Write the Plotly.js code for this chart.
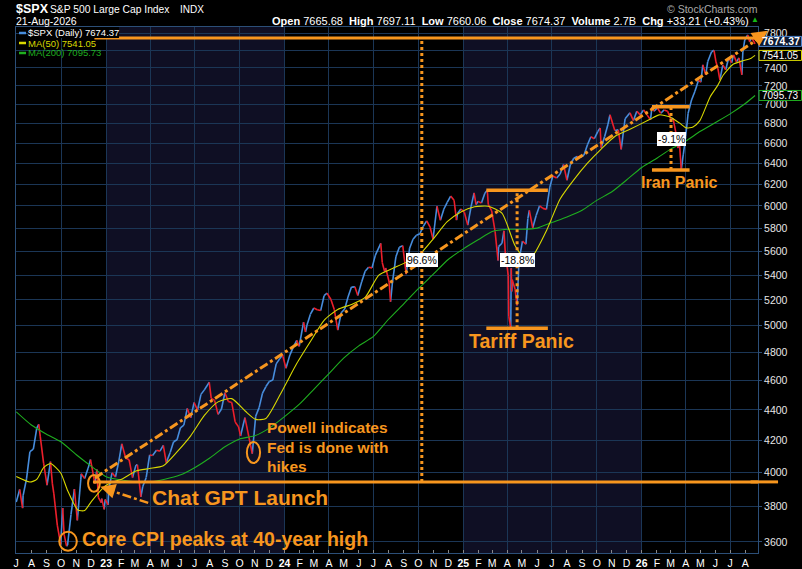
<!DOCTYPE html>
<html><head><meta charset="utf-8">
<script src="https://cdn.plot.ly/plotly-3.0.1.min.js"></script>
<style>html,body{margin:0;padding:0;background:#000;}#chart{width:802px;height:569px;}</style>
</head><body><div id="chart"></div>
<script>
// ---- price data (closes) ----
const d22 = ['2022-07-01','2022-07-08','2022-07-14','2022-07-15','2022-07-22','2022-07-29','2022-08-05','2022-08-12','2022-08-16','2022-08-19','2022-08-26','2022-09-02','2022-09-09','2022-09-13','2022-09-16','2022-09-23','2022-09-30','2022-10-04','2022-10-07','2022-10-12','2022-10-14','2022-10-21','2022-10-28','2022-11-03','2022-11-10','2022-11-11','2022-11-18','2022-11-25','2022-11-30','2022-12-09','2022-12-13','2022-12-16','2022-12-22','2022-12-23','2022-12-28','2022-12-30'];
const v22 = [3825,3899,3790,3863,3962,4130,4145,4280,4305,4228,4058,3924,4067,3932,3873,3693,3586,3791,3640,3577,3583,3752,3901,3720,3956,3993,3965,4026,4080,3934,4019,3852,3822,3845,3783,3840];
const d23 = ['2023-01-05','2023-01-06','2023-01-13','2023-01-20','2023-01-27','2023-02-02','2023-02-10','2023-02-17','2023-02-24','2023-03-03','2023-03-06','2023-03-13','2023-03-17','2023-03-24','2023-03-31','2023-04-06','2023-04-14','2023-04-21','2023-04-28','2023-05-04','2023-05-12','2023-05-19','2023-05-26','2023-06-02','2023-06-09','2023-06-16','2023-06-23','2023-06-30','2023-07-07','2023-07-14','2023-07-21','2023-07-31','2023-08-04','2023-08-11','2023-08-18','2023-08-25','2023-09-01','2023-09-08','2023-09-15','2023-09-22','2023-09-29','2023-10-03','2023-10-12','2023-10-20','2023-10-27','2023-11-03','2023-11-10','2023-11-17','2023-11-24','2023-12-01','2023-12-08','2023-12-15','2023-12-22','2023-12-28','2023-12-29'];
const v23 = [3808,3895,3999,3973,4071,4179,4090,4079,3970,4046,4048,3855,3917,3971,4109,4105,4138,4133,4169,4061,4124,4192,4205,4282,4299,4410,4348,4450,4399,4505,4536,4589,4478,4464,4370,4406,4516,4457,4450,4320,4288,4229,4349,4224,4117,4358,4415,4514,4559,4595,4604,4719,4755,4783,4770];
const d24 = ['2024-01-04','2024-01-12','2024-01-19','2024-01-26','2024-01-31','2024-02-09','2024-02-13','2024-02-16','2024-02-23','2024-03-01','2024-03-08','2024-03-15','2024-03-22','2024-03-28','2024-04-05','2024-04-12','2024-04-19','2024-04-26','2024-05-03','2024-05-10','2024-05-17','2024-05-24','2024-05-30','2024-06-07','2024-06-14','2024-06-21','2024-06-28','2024-07-05','2024-07-16','2024-07-19','2024-07-24','2024-07-26','2024-08-02','2024-08-05','2024-08-09','2024-08-16','2024-08-23','2024-08-30','2024-09-06','2024-09-13','2024-09-20','2024-09-27','2024-10-04','2024-10-11','2024-10-18','2024-10-25','2024-10-31','2024-11-08','2024-11-15','2024-11-22','2024-11-29','2024-12-06','2024-12-13','2024-12-18','2024-12-20','2024-12-27'];
const v24 = [4688,4784,4840,4891,4846,5027,4953,5006,5089,5137,5124,5117,5234,5254,5204,5123,4967,5100,5128,5223,5303,5305,5236,5347,5432,5465,5460,5567,5667,5505,5427,5459,5346,5186,5344,5554,5634,5648,5408,5626,5703,5738,5751,5815,5864,5808,5705,5996,5870,5969,6032,6090,6051,5872,5931,5971];
const d25 = ['2025-01-03','2025-01-10','2025-01-17','2025-01-23','2025-01-27','2025-01-31','2025-02-07','2025-02-14','2025-02-19','2025-02-21','2025-02-28','2025-03-07','2025-03-13','2025-03-14','2025-03-21','2025-03-25','2025-03-28','2025-04-03','2025-04-04','2025-04-08','2025-04-09','2025-04-10','2025-04-11','2025-04-17','2025-04-21','2025-04-25','2025-05-02','2025-05-09','2025-05-13','2025-05-16','2025-05-23','2025-05-30','2025-06-06','2025-06-13','2025-06-20','2025-06-27','2025-07-03','2025-07-11','2025-07-18','2025-07-25','2025-08-01','2025-08-08','2025-08-15','2025-08-22','2025-08-29','2025-09-05','2025-09-12','2025-09-19','2025-09-26','2025-10-03','2025-10-08','2025-10-10','2025-10-17','2025-10-24','2025-10-28','2025-11-07','2025-11-14','2025-11-20','2025-11-28','2025-12-08','2025-12-15','2025-12-22','2025-12-29'];
const v25 = [5942,5827,5997,6119,6012,6041,6026,6115,6144,6013,5955,5770,5522,5639,5668,5777,5581,5397,5074,4982,5457,5268,5363,5283,5158,5525,5687,5660,5886,5958,5803,5912,6000,5977,5968,6173,6279,6260,6297,6389,6238,6389,6450,6467,6460,6482,6584,6664,6644,6716,6753,6553,6664,6792,6891,6728,6734,6538,6849,6911,6830,6928,6890];
const d26 = ['2026-01-05','2026-01-12','2026-01-19','2026-01-22','2026-01-26','2026-02-02','2026-02-09','2026-02-16','2026-02-23','2026-03-02','2026-03-06','2026-03-12','2026-03-16','2026-03-19','2026-03-23','2026-03-27','2026-04-01','2026-04-06','2026-04-13','2026-04-20','2026-04-27','2026-05-02','2026-05-06','2026-05-12','2026-05-16','2026-05-24','2026-05-29','2026-06-02','2026-06-06','2026-06-10','2026-06-16','2026-06-22','2026-06-28','2026-07-04','2026-07-08','2026-07-14','2026-07-19','2026-07-25','2026-07-27','2026-07-31','2026-08-06','2026-08-10','2026-08-14','2026-08-21'];
const v26 = [6942,6890,6838,6974,6928,6964,6907,6942,6928,6838,6855,6704,6551,6620,6337,6484,6664,6907,7048,7142,7260,7240,7434,7322,7468,7583,7600,7468,7390,7266,7434,7378,7514,7457,7548,7468,7514,7322,7583,7723,7780,7700,7750,7674.37];

// ---- moving averages ----
const ma50Dates = ['2022-07-01','2022-07-29','2022-08-12','2022-08-26','2022-09-09','2022-09-30','2022-10-14','2022-11-04','2022-11-18','2022-12-02','2022-12-30','2023-01-13','2023-02-03','2023-03-03','2023-03-31','2023-04-28','2023-05-26','2023-06-23','2023-07-21','2023-08-18','2023-09-15','2023-10-13','2023-11-03','2023-11-24','2023-12-29','2024-01-26','2024-02-23','2024-03-22','2024-04-19','2024-05-17','2024-06-14','2024-07-12','2024-08-09','2024-09-06','2024-10-04','2024-11-01','2024-11-29','2024-12-27','2025-01-24','2025-02-21','2025-03-21','2025-04-17','2025-05-09','2025-05-23','2025-06-20','2025-07-18','2025-08-15','2025-09-12','2025-10-10','2025-11-07','2025-12-08','2026-01-16','2026-02-06','2026-02-27','2026-03-19','2026-04-02','2026-04-16','2026-04-30','2026-05-21','2026-06-05','2026-06-17','2026-07-07','2026-07-27','2026-08-13','2026-08-21'];
const ma50Values = [3976,3943,3959,4030,4056,3998,3893,3779,3776,3829,3920,3942,3962,4010,4025,4042,4128,4230,4363,4454,4476,4391,4337,4343,4541,4721,4882,5042,5126,5165,5221,5400,5454,5508,5575,5709,5857,5945,5991,5996,5933,5646,5525,5560,5777,6063,6242,6402,6541,6667,6740,6838,6890,6869,6806,6755,6765,6830,7080,7200,7320,7440,7480,7510,7541.05];
const ma200Dates = ['2022-07-01','2022-08-01','2022-09-01','2022-10-01','2022-11-01','2022-12-01','2023-01-01','2023-02-01','2023-03-01','2023-04-01','2023-05-01','2023-06-01','2023-07-01','2023-08-01','2023-09-01','2023-10-01','2023-11-01','2023-12-01','2024-01-01','2024-02-01','2024-03-01','2024-04-01','2024-05-01','2024-06-01','2024-07-01','2024-08-01','2024-09-01','2024-10-01','2024-11-01','2024-12-01','2025-01-01','2025-02-01','2025-03-01','2025-04-01','2025-05-01','2025-06-01','2025-07-01','2025-08-01','2025-09-01','2025-10-01','2025-11-01','2025-12-01','2026-01-01','2026-02-01','2026-03-01','2026-04-01','2026-05-01','2026-06-01','2026-07-01','2026-08-01','2026-08-21'];
const ma200Values = [4387,4300,4240,4190,4110,4040,3975,3955,3945,3945,3960,3985,4030,4090,4160,4210,4230,4280,4355,4440,4540,4650,4760,4850,4920,5050,5170,5290,5410,5530,5620,5700,5770,5790,5790,5800,5850,5900,5960,6050,6130,6240,6360,6450,6540,6620,6720,6810,6900,7010,7095.73];

// ---- axis labels ----
const yTicks = [3600,3800,4000,4200,4400,4600,4800,5000,5200,5400,5600,5800,6000,6200,6400,6600,6800,7000,7200,7400,7600,7800];
const yHiddenLabels = [7600]; // covered by the price tags in the reference
const monthInitials = ['J','F','M','A','M','J','J','A','S','O','N','D'];

// ---- annotation levels ----
const chatGptLevel = 3944, highLevel = 7744;
const tariffHigh = 6144, tariffLow = 4982;
const iranHigh = 6974, iranLow = 6337;
const tagValues = [7674.37, 7541.05, 7095.73];

const dates = [].concat(d22,d23,d24,d25,d26);
const closes = [].concat(v22,v23,v24,v25,v26);
const upX=[],upY=[],dnX=[],dnY=[];
for (let i=1;i<dates.length;i++){
  const up = closes[i] >= closes[i-1];
  (up?upX:dnX).push(dates[i-1],dates[i],null);
  (up?upY:dnY).push(closes[i-1],closes[i],null);
}
const tickvals=[], ticktext=[];
for (let y=2022,m=6; y<2026 || m<=7; ){
  tickvals.push(y+'-'+String(m+1).padStart(2,'0')+'-01');
  ticktext.push(m===0 ? '<b>'+String(y).slice(2)+'</b>' : monthInitials[m]);
  m++; if(m>11){m=0;y++;}
}

const orange = '#f7961e';
const grid = '#1b3656';
const frame = '#2c4f78';
const FONT = 'Liberation Sans, Arial, Helvetica, sans-serif';
const blue = '#478ddd', red = '#ec1f2b', yellow = '#d8d800', green = '#1fae1f';

const traces = [
  {x:upX,y:upY,type:'scatter',mode:'lines',line:{color:blue,width:1.6},hoverinfo:'skip'},
  {x:dnX,y:dnY,type:'scatter',mode:'lines',line:{color:red,width:1.6},hoverinfo:'skip'},
  {x:ma200Dates,y:ma200Values,type:'scatter',mode:'lines',line:{color:green,width:1.1,shape:'spline',smoothing:0.6},hoverinfo:'skip'},
  {x:ma50Dates,y:ma50Values,type:'scatter',mode:'lines',line:{color:yellow,width:1.1,shape:'spline',smoothing:0.6},hoverinfo:'skip'}
];

const py = p => (553-p)/526, px = p => (p-16)/742;
const pxPerDecade = 1515;
const L = (x0,y0,x1,y1,w,dash) => ({type:'line',xref:'x',yref:'y',x0,y0,x1,y1,layer:'above',line:{color:orange,width:w,dash:dash||'solid'}});
// price tags: [pixel shift up, border colour, fill]
const tagStyle = [[2.5,'#4f86cf','#0c1a33'],[0,yellow,'#000'],[0,green,'#000']];
const tagShapes = tagValues.map((v,i)=>{
  const c = Math.log10(v) + tagStyle[i][0]/pxPerDecade, h = 5/pxPerDecade;
  return {type:'rect',xref:'paper',yref:'y',x0:px(759),x1:px(801.5),y0:Math.pow(10,c-h),y1:Math.pow(10,c+h),
    fillcolor:tagStyle[i][2],line:{color:tagStyle[i][1],width:1},layer:'above'};
});
const shapes = [
  {type:'rect',xref:'x',yref:'paper',x0:'2023-01-01',x1:'2024-01-01',y0:0,y1:1,fillcolor:'#0f0f24',line:{width:0},layer:'below'},
  {type:'rect',xref:'x',yref:'paper',x0:'2025-01-01',x1:'2026-01-01',y0:0,y1:1,fillcolor:'#0f0f24',line:{width:0},layer:'below'},
  L('2022-12-08',highLevel,'2026-08-27',highLevel,3),
  L('2022-12-05',chatGptLevel,'2026-08-27',chatGptLevel,3),
  {type:'line',xref:'paper',yref:'y',x0:0.99,x1:1.027,y0:chatGptLevel,y1:chatGptLevel,layer:'above',line:{color:orange,width:3}},
  L('2024-10-08',chatGptLevel,'2024-10-08',highLevel,3,'dot'),
  L('2025-02-17',tariffHigh,'2025-06-23',tariffHigh,3.5),
  L('2025-02-17',tariffLow,'2025-06-23',tariffLow,3.5),
  L('2025-04-21',tariffLow,'2025-04-21',tariffHigh,3,'dot'),
  L('2026-01-22',iranHigh,'2026-04-09',iranHigh,3.5),
  L('2026-01-22',iranLow,'2026-04-09',iranLow,3.5),
  L('2026-03-02',iranLow,'2026-03-02',iranHigh,3,'dot'),
  L('2022-12-09',3968,'2026-08-27',7731,3,'dashdot'),
  L('2023-03-28',3820,'2023-01-13',3890,2.5,'dashdot'),
  {type:'circle',xref:'x',yref:'y',x0:'2022-11-25',x1:'2022-12-19',y0:3885,y1:3986,layer:'above',line:{color:orange,width:2}},
  {type:'circle',xref:'x',yref:'y',x0:'2023-10-16',x1:'2023-11-12',y0:4059,y1:4191,layer:'above',line:{color:orange,width:2}},
  {type:'circle',xref:'x',yref:'y',x0:'2022-09-27',x1:'2022-11-02',y0:3552,y1:3656,layer:'above',line:{color:orange,width:2}},
  {type:'line',xref:'paper',yref:'paper',x0:px(19),x1:px(26),y0:py(33),y1:py(33),line:{color:blue,width:2.5}},
  {type:'line',xref:'paper',yref:'paper',x0:px(19),x1:px(26),y0:py(43),y1:py(43),line:{color:yellow,width:2.5}},
  {type:'line',xref:'paper',yref:'paper',x0:px(19),x1:px(26),y0:py(53),y1:py(53),line:{color:green,width:2.5}}
].concat(tagShapes);

const T = (x,y,text,size,color,extra) => Object.assign({xref:'x',yref:'y',x,y:Math.log10(y),text,showarrow:false,xanchor:'left',yanchor:'middle',font:{family:FONT,size,color:color||orange},borderpad:0,borderwidth:0}, extra||{});
const P = (x,y,text,size,color,anchor,extra) => Object.assign({xref:'paper',yref:'paper',x:px(x),y:py(y),text,showarrow:false,xanchor:anchor||'left',yanchor:'middle',font:{family:FONT,size,color:color||'#fff'},borderpad:0,borderwidth:0}, extra||{});
const nb = '\u00a0';
const tagTexts = tagValues.map((v,i)=>({xref:'paper',yref:'y',x:px(780.5),y:Math.log10(v)+tagStyle[i][0]/pxPerDecade,xanchor:'center',yanchor:'middle',
  text: i===0 ? '<b>'+v.toFixed(2)+'</b>' : v.toFixed(2),showarrow:false,font:{family:FONT,size:i===0?10.5:10,color:'#fff'},borderpad:0,borderwidth:0}));
const annotations = [
  P(16,9,'<b>$SPX</b>',12.5),
  P(50,9,'S&P 500 Large Cap Index',10.3),
  P(180,9,'INDX',10),
  P(16,21,'21-Aug-2026',10.5),
  P(749,21,'<b>Open</b> 7665.68'+nb+nb+'<b>High</b> 7697.11'+nb+nb+'<b>Low</b> 7660.06'+nb+nb+'<b>Close</b> 7674.37'+nb+nb+'<b>Volume</b> 2.7B'+nb+nb+'<b>Chg</b> +33.21 (+0.43%)',11,'#fff','right'),
  P(755,20,'▲',8,'#14b814','center'),
  P(758,9,'© StockCharts.com',10.5,'#a8a8a8','right'),
  P(28,33,'$SPX (Daily) 7674.37',9.5,'#fff','left',{bgcolor:'#000'}),
  P(28,43,'MA(50) 7541.05',9.5,yellow),
  P(28,53,'MA(200) 7095.73',9.5,green),
  {xref:'paper',yref:'y',x:px(768),y:Math.log10(7830),ax:-15,ay:10,text:'',showarrow:true,arrowhead:2,arrowsize:1.05,arrowwidth:3,arrowcolor:orange},
  {xref:'x',yref:'y',x:'2022-12-20',y:Math.log10(3915),ax:13,ay:4,text:'',showarrow:true,arrowhead:2,arrowsize:1.2,arrowwidth:2.5,arrowcolor:orange},
  T('2023-04-05',3849,'<b>Chat GPT Launch</b>',21),
  T('2022-11-12',3616,'<b>Core CPI peaks at 40-year high</b>',19.5),
  T('2023-11-26',4281,'<b>Powell indicates</b>',15.5),
  T('2023-11-26',4153,'<b>Fed is done with</b>',15.5),
  T('2023-11-26',4035,'<b>hikes</b>',15.5),
  T('2025-01-13',4887,'<b>Tariff Panic</b>',19.5),
  T('2025-12-31',6220,'<b>Iran Panic</b>',16),
  T('2024-10-08',5526,'96.6%',10.5,'#000',{xanchor:'center',bgcolor:'#fff',borderpad:1}),
  T('2025-04-21',5526,'-18.8%',10.5,'#000',{xanchor:'center',bgcolor:'#fff',borderpad:1}),
  T('2026-03-02',6643,'-9.1%',10.5,'#000',{xanchor:'center',bgcolor:'#fff',borderpad:1})
].concat(tagTexts);

const layout = {
  width:802,height:569,
  margin:{l:16,r:44,t:27,b:16,pad:0},
  paper_bgcolor:'#000',plot_bgcolor:'#000',
  showlegend:false,
  font:{family:FONT,color:'#fff',size:11},
  xaxis:{type:'date',range:['2022-06-30 12:00','2026-08-27'],tickmode:'array',tickvals,ticktext,tickangle:0,
    ticks:'inside',ticklen:3,tickcolor:'#888',showgrid:false,showline:true,mirror:true,linecolor:frame,linewidth:1,
    tickfont:{family:FONT,size:10.5,color:'#fff'},zeroline:false,
    minor:{tick0:'2022-07-01',dtick:'M3',showgrid:true,gridcolor:grid,gridwidth:1,ticks:''}},
  yaxis:{type:'log',side:'right',range:[Math.log10(3540),Math.log10(7874)],tickmode:'array',tickvals:yTicks,
    ticktext:yTicks.map(v=>yHiddenLabels.includes(v)?'':String(v)),
    ticks:'outside',ticklen:3,tickcolor:frame,showgrid:true,gridcolor:grid,gridwidth:1,showline:true,mirror:true,linecolor:frame,
    tickfont:{family:FONT,size:10.5,color:'#e6e6e6'},zeroline:false},
  shapes,annotations
};
Plotly.newPlot('chart',traces,layout,{staticPlot:true,displayModeBar:false});
</script>
</body></html>
